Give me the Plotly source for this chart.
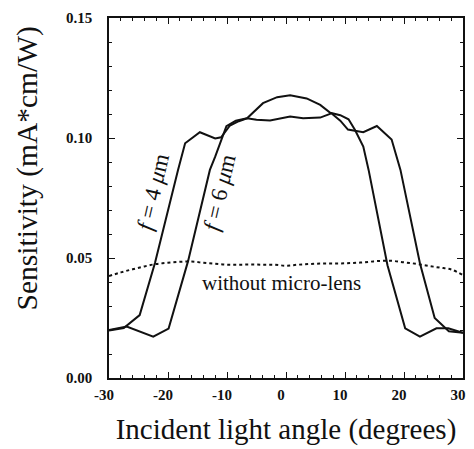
import plotly.graph_objects as go

# Incident light angle (degrees) and sensitivity (mA*cm/W)
f4_angle = [-30, -27.5, -24.8, -22.2, -18.3, -17.1, -14.6, -12.0, -11.0, -9.5, -8.0, -6.6,
            -5.0, -2.7, 0.7, 2.9, 5.8, 7.7, 9.2, 10.5, 13.1, 15.4, 17.9, 19.4, 22.7, 25.2,
            27.6, 30]
f4_sens = [0.0198, 0.0208, 0.0262, 0.0480, 0.0867, 0.0978, 0.1024, 0.0998, 0.1003, 0.1052,
           0.1070, 0.1082, 0.1076, 0.1073, 0.1090, 0.1082, 0.1085, 0.1103, 0.1072, 0.1035,
           0.1024, 0.1050, 0.0994, 0.0867, 0.0478, 0.0250, 0.0195, 0.0188]

f6_angle = [-30, -27.0, -22.5, -19.9, -16.6, -12.9, -12.0, -10.1, -8.5, -6.6, -3.9, -1.5,
            0.7, 3.5, 5.8, 7.5, 9.2, 10.6, 11.7, 13.1, 14.0, 17.2, 20.2, 22.7, 25.5, 27.5, 30]
f6_sens = [0.0200, 0.0214, 0.0172, 0.0206, 0.0487, 0.0867, 0.0922, 0.1049, 0.1072, 0.1082,
           0.1145, 0.1170, 0.1178, 0.1165, 0.1138, 0.1105, 0.1095, 0.1078, 0.1033, 0.0964,
           0.0867, 0.0470, 0.0207, 0.0172, 0.0207, 0.0207, 0.0188]

nolens_angle = [-30, -28, -26, -24, -22, -20, -18, -16, -14, -12, -10, -8, -6, -4, -2, 0,
                2, 4, 6, 8, 10, 12, 14, 16, 18, 20, 22, 24, 26, 28, 30]
nolens_sens = [0.0425, 0.0440, 0.0453, 0.0465, 0.0475, 0.0480, 0.0484, 0.0485, 0.0480, 0.0476,
               0.0472, 0.0472, 0.0473, 0.0472, 0.0472, 0.0468, 0.0472, 0.0475, 0.0477, 0.0477,
               0.0478, 0.0480, 0.0484, 0.0488, 0.0488, 0.0482, 0.0476, 0.0468, 0.0460, 0.0452,
               0.0429]

x_tick_vals = [-30, -20, -10, 0, 10, 20, 30]
x_tick_labels = ["-30", "-20", "-10", "0", "10", "20", "30"]
y_tick_vals = [0.0, 0.05, 0.10, 0.15]
y_tick_labels = ["0.00", "0.05", "0.10", "0.15"]

FONT = "Liberation Serif, Times New Roman, serif"

fig = go.Figure()
fig.add_trace(go.Scatter(x=f4_angle, y=f4_sens, mode="lines", name="f = 4 µm",
                         line=dict(color="#111", width=2)))
fig.add_trace(go.Scatter(x=f6_angle, y=f6_sens, mode="lines", name="f = 6 µm",
                         line=dict(color="#111", width=2)))
fig.add_trace(go.Scatter(x=nolens_angle, y=nolens_sens, mode="lines", name="without micro-lens",
                         line=dict(color="#111", width=2, dash="dot", shape="spline")))

fig.add_annotation(x=-22.6, y=0.0775, text="<i>f</i> = 4 <i>μ</i>m", showarrow=False,
                   textangle=-77, font=dict(family=FONT, size=23, color="#111"))
fig.add_annotation(x=-11.3, y=0.0775, text="<i>f</i> = 6 <i>μ</i>m", showarrow=False,
                   textangle=-77, font=dict(family=FONT, size=23, color="#111"))
fig.add_annotation(x=-0.7, y=0.0395, text="without micro-lens", showarrow=False,
                   font=dict(family=FONT, size=21, color="#111"))
# y-axis title (placed slightly above the axis centre, as in the original)
fig.add_annotation(xref="paper", yref="paper", x=-0.229, y=0.582, text="Sensitivity (mA*cm/W)",
                   showarrow=False, textangle=-90, xanchor="center", yanchor="middle",
                   font=dict(family=FONT, size=29.5, color="#111"))

fig.update_xaxes(range=[-30, 30], tickmode="array", tickvals=x_tick_vals, ticktext=x_tick_labels,
                 ticks="inside", ticklen=6, tickwidth=1.2, tickcolor="#111",
                 minor=dict(ticks="inside", dtick=2, ticklen=3, tickwidth=1, tickcolor="#111"),
                 showline=True, linecolor="#111", linewidth=1.5, mirror="ticks",
                 showgrid=False, zeroline=False, ticklabelstandoff=2, ticklabelshift=-5,
                 tickfont=dict(family=FONT, size=15, color="#111", weight="bold"),
                 title=dict(text="Incident light angle (degrees)", standoff=17,
                            font=dict(family=FONT, size=29, color="#111")))
fig.update_yaxes(range=[0, 0.15], tickmode="array", tickvals=y_tick_vals, ticktext=y_tick_labels,
                 ticks="inside", ticklen=6, tickwidth=1.2, tickcolor="#111",
                 minor=dict(ticks="inside", dtick=0.01, ticklen=3, tickwidth=1, tickcolor="#111"),
                 showline=True, linecolor="#111", linewidth=1.5, mirror="ticks",
                 showgrid=False, zeroline=False, ticklabelstandoff=12,
                 tickfont=dict(family=FONT, size=15, color="#111", weight="bold"))

# the page body adds an 8px offset; size the figure so the plot lands where the original's does
fig.update_layout(width=466, height=441, margin=dict(l=101, r=11, t=10, b=71, autoexpand=False),
                  paper_bgcolor="white", plot_bgcolor="white", showlegend=False)

fig.write_html("out.html")
